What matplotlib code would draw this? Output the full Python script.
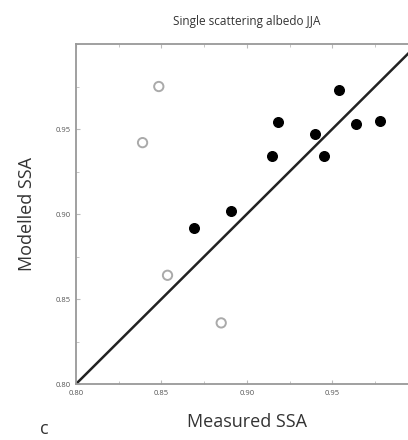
import matplotlib
matplotlib.use("Agg")
import matplotlib.pyplot as plt
from matplotlib.ticker import MultipleLocator

# Data
filled_x = [0.869, 0.891, 0.915, 0.918, 0.940, 0.945, 0.954, 0.964, 0.978]
filled_y = [0.892, 0.902, 0.934, 0.954, 0.947, 0.934, 0.973, 0.953, 0.955]
open_x = [0.8485, 0.839, 0.8536, 0.885, 0.877]
open_y = [0.975, 0.942, 0.864, 0.836, 0.797]
one_to_one = [0.80, 1.00]
tick_vals = [0.80, 0.85, 0.90, 0.95]
tick_labels = ["0.80", "0.85", "0.90", "0.95"]

plt.rcParams['font.family'] = ['Open Sans', 'DejaVu Sans']

fig = plt.figure(figsize=(4.08, 4.40), dpi=100)
ax = fig.add_axes([0.186, 0.127, 0.838, 0.773])

ax.plot(one_to_one, one_to_one, color="#222222", lw=1.8, zorder=2)
ax.scatter(filled_x, filled_y, s=48, color="black", zorder=3)
ax.scatter(open_x, open_y, s=45, facecolors="none", edgecolors="#aaaaaa",
           linewidths=1.4, zorder=3)

ax.set_xlim(0.80, 1.00)
ax.set_ylim(0.80, 1.00)
ax.set_xticks(tick_vals)
ax.set_xticklabels(tick_labels)
ax.set_yticks(tick_vals)
ax.set_yticklabels(tick_labels)
ax.xaxis.set_minor_locator(MultipleLocator(0.025))
ax.yaxis.set_minor_locator(MultipleLocator(0.025))
ax.tick_params(which="both", direction="in", top=True, right=False,
               color="#bbbbbb", labelsize=5.5, labelcolor="#555555")
ax.tick_params(which="major", length=3, width=0.8, pad=4)
ax.tick_params(which="minor", length=2, width=0.6)
for s in ["left", "top", "bottom"]:
    ax.spines[s].set_color("#999999")
    ax.spines[s].set_linewidth(1.3)
ax.spines["right"].set_visible(False)

fig.text(0.605, 0.95, "Single scattering albedo JJA", ha="center", va="center",
         fontsize=8.5, color="#333333")
ax.set_xlabel("Measured SSA", fontsize=13, color="#333333", labelpad=12)
ax.set_ylabel("Modelled SSA", fontsize=13, color="#333333", labelpad=14)
fig.text(0.098, 0.005, "c", fontsize=13, color="#333333", ha="left", va="bottom")

fig.savefig("out.png", dpi=100)
